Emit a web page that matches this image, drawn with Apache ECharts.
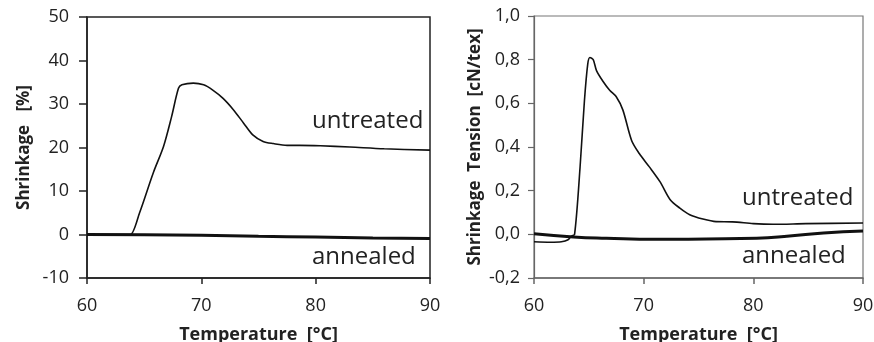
<!DOCTYPE html>
<html><head><meta charset="utf-8">
<script src="https://cdn.jsdelivr.net/npm/echarts@6/dist/echarts.min.js"></script>
<style>html,body{margin:0;padding:0;background:#fff}#c{width:874px;height:342px}</style>
</head><body><div id="c"></div>
<script>
// Left panel: Shrinkage [%]
const shrinkUntreatedT = [60, 62, 63.5, 63.8, 64.6, 65.8, 66.7, 67.4, 68.0, 68.3, 69.3, 70.2, 71.0, 71.9, 72.8, 73.7, 74.5, 75.4, 76.3, 77.5, 78.6, 80.4, 83, 86, 90];
const shrinkUntreatedV = [0, 0, 0, 0, 5, 14.2, 20.3, 27.1, 33.6, 34.4, 34.8, 34.4, 33.2, 31.3, 28.7, 25.6, 22.9, 21.4, 20.9, 20.5, 20.5, 20.4, 20.1, 19.7, 19.4];
const shrinkAnnealedT = [60, 65, 70, 75, 80, 85, 90];
const shrinkAnnealedV = [0, -0.05, -0.2, -0.4, -0.6, -0.8, -0.9];
// Right panel: Shrinkage Tension [cN/tex]
const tensionUntreatedT = [60, 61.5, 62.5, 63.1, 63.4, 63.7, 64.2, 64.6, 64.9, 65.1, 65.4, 65.7, 66.3, 66.9, 67.5, 68.1, 68.9, 69.6, 70.5, 71.5, 72.4, 73.3, 74.2, 75.4, 76.6, 78.1, 80.0, 81.8, 84.8, 90];
const tensionUntreatedV = [-0.034, -0.036, -0.034, -0.025, -0.008, 0.0, 0.307, 0.613, 0.78, 0.81, 0.80, 0.75, 0.70, 0.66, 0.63, 0.57, 0.43, 0.37, 0.31, 0.24, 0.16, 0.12, 0.09, 0.07, 0.058, 0.057, 0.049, 0.046, 0.049, 0.052];
const tensionAnnealedT = [60, 63.6, 66.6, 71.2, 75.7, 80.3, 83.3, 86.4, 90];
const tensionAnnealedV = [0.003, -0.012, -0.018, -0.023, -0.021, -0.018, -0.008, 0.006, 0.015];
const xTicks = [60, 70, 80, 90];
const leftYTicks = [-10, 0, 10, 20, 30, 40, 50];
const rightYTicks = [-0.2, 0, 0.2, 0.4, 0.6, 0.8, 1.0];

const zip = (a, b) => a.map((v, i) => [v, b[i]]);
const FONT = '"Open Sans", sans-serif';
const lblStyle = { color: '#222', fontSize: 18, fontFamily: FONT };
const nameStyle = { color: '#222', fontSize: 17, fontWeight: 'bold', fontFamily: FONT };

function xAxis(gi, col) {
  return {
    type: 'value', gridIndex: gi, min: 60, max: 90, interval: 10,
    name: 'Temperature  [°C]', nameLocation: 'middle', nameGap: 48, nameTextStyle: Object.assign({}, nameStyle, { fontSize: 18 }),
    axisLine: { onZero: false, lineStyle: { color: col, width: 1.5 } },
    axisTick: { show: true, inside: false, length: 6, lineStyle: { color: col, width: 1.5 } },
    axisLabel: Object.assign({ margin: 19 }, lblStyle),
    splitLine: { show: false }
  };
}
const chart = echarts.init(document.getElementById('c'));
chart.setOption({
  animation: false,
  grid: [
    { left: 87, right: 444, top: 17, bottom: 64, show: true, borderColor: '#222', borderWidth: 1.5, containLabel: false, outerBoundsMode: 'none' },
    { left: 534, right: 11, top: 16, bottom: 64, show: true, borderColor: '#777', borderWidth: 1.2, containLabel: false, outerBoundsMode: 'none' }
  ],
  xAxis: [xAxis(0, '#222'), xAxis(1, '#666')],
  yAxis: [
    {
      type: 'value', gridIndex: 0, min: -10, max: 50, interval: 10,
      name: 'Shrinkage   [%]', nameLocation: 'middle', nameGap: 54, nameTextStyle: nameStyle,
      axisLine: { show: true, lineStyle: { color: '#222', width: 1.5 } },
      axisTick: { show: true, length: 8, lineStyle: { color: '#222', width: 1.5 } },
      axisLabel: Object.assign({ margin: 18 }, lblStyle),
      splitLine: { show: false }
    },
    {
      type: 'value', gridIndex: 1, min: -0.2, max: 1.0, interval: 0.2,
      name: 'Shrinkage  Tension  [cN/tex]', nameLocation: 'middle', nameGap: 50, nameTextStyle: nameStyle,
      axisLine: { show: true, lineStyle: { color: '#666', width: 1.2 } },
      axisTick: { show: true, length: 6, lineStyle: { color: '#666', width: 1.2 } },
      axisLabel: Object.assign({ margin: 14, formatter: v => v.toFixed(1).replace('.', ',') }, lblStyle),
      splitLine: { show: false }
    }
  ],
  series: [
    { type: 'line', xAxisIndex: 0, yAxisIndex: 0, data: zip(shrinkUntreatedT, shrinkUntreatedV), smooth: 0.3, showSymbol: false, lineStyle: { color: '#111', width: 1.6 } },
    { type: 'line', xAxisIndex: 0, yAxisIndex: 0, data: zip(shrinkAnnealedT, shrinkAnnealedV), smooth: true, showSymbol: false, lineStyle: { color: '#111', width: 3 } },
    { type: 'line', xAxisIndex: 1, yAxisIndex: 1, data: zip(tensionUntreatedT, tensionUntreatedV), smooth: 0.3, showSymbol: false, lineStyle: { color: '#111', width: 1.6 } },
    { type: 'line', xAxisIndex: 1, yAxisIndex: 1, data: zip(tensionAnnealedT, tensionAnnealedV), smooth: true, showSymbol: false, lineStyle: { color: '#111', width: 3 } }
  ],
  graphic: [
    { type: 'text', left: 312, top: 109, style: { text: 'untreated', font: '24px "Open Sans", sans-serif', fill: '#222' } },
    { type: 'text', left: 312, top: 245, style: { text: 'annealed', font: '24px "Open Sans", sans-serif', fill: '#222' } },
    { type: 'text', left: 742, top: 186, style: { text: 'untreated', font: '24px "Open Sans", sans-serif', fill: '#222' } },
    { type: 'text', left: 742, top: 244, style: { text: 'annealed', font: '24px "Open Sans", sans-serif', fill: '#222' } }
  ]
});
</script></body></html>
